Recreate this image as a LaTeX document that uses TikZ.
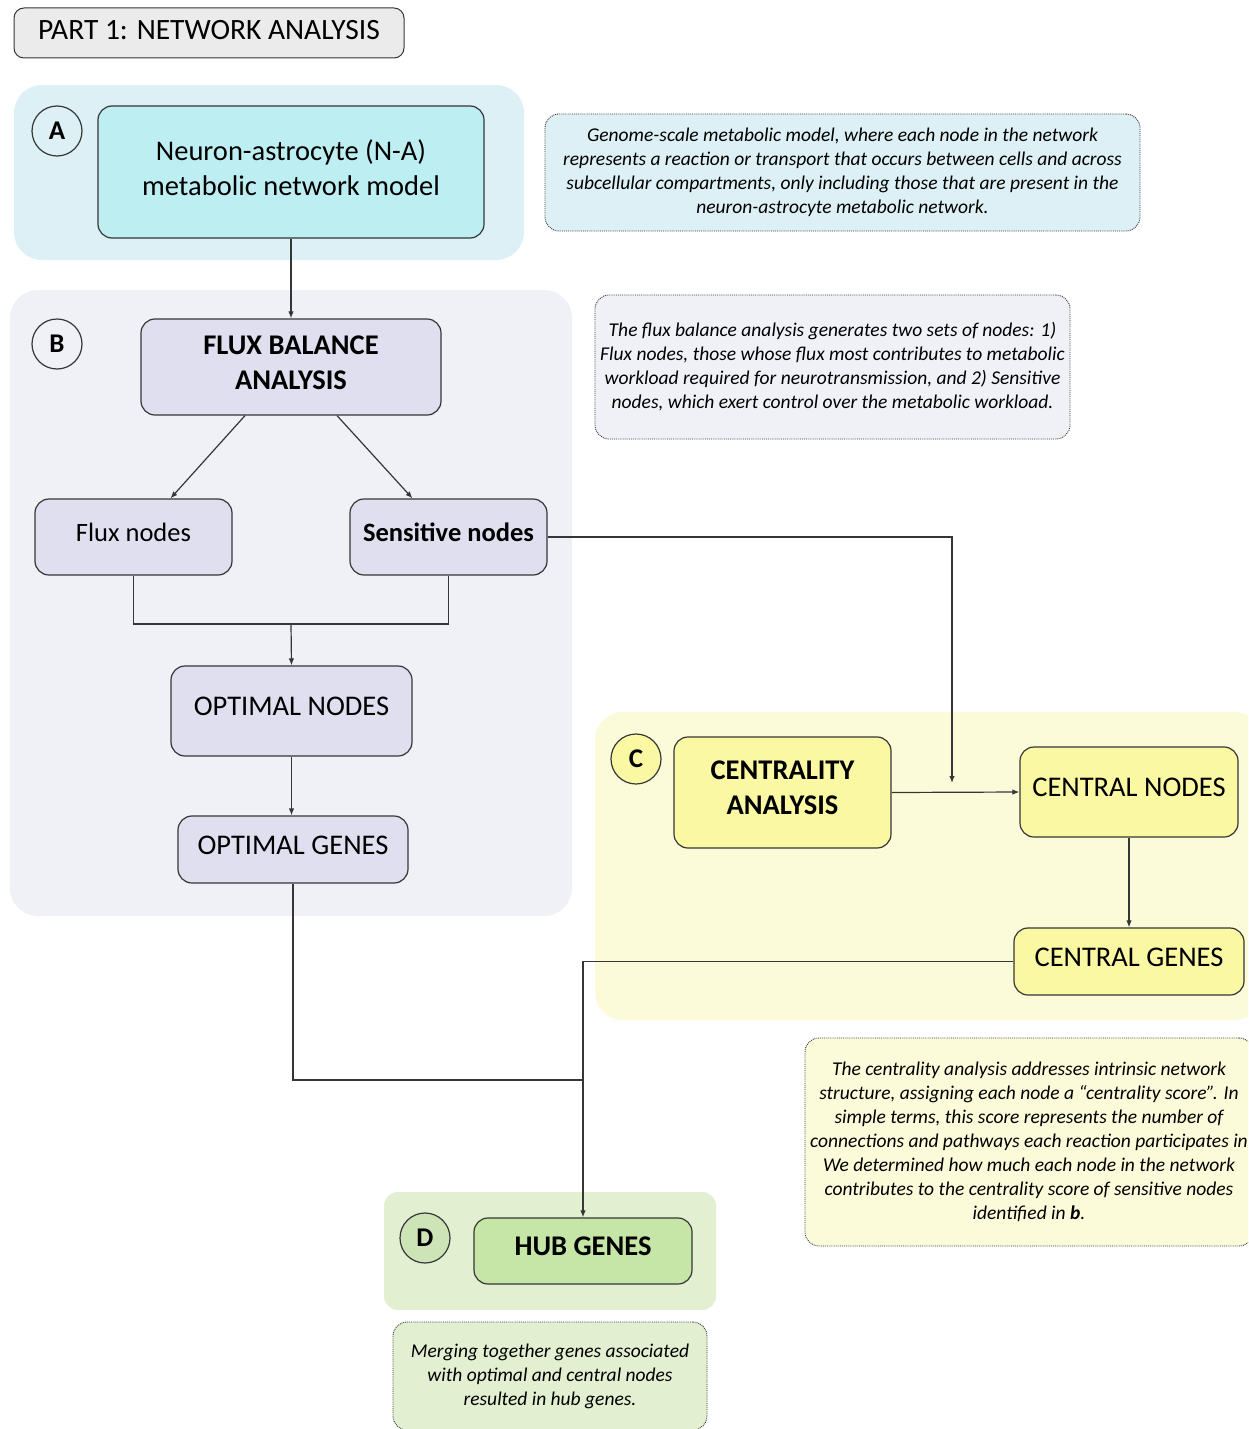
\documentclass[tikz,border=0pt]{standalone}
\usepackage{fontspec}
\setmainfont{Carlito}
\usetikzlibrary{arrows.meta,calc,positioning}

\definecolor{lnGray}{HTML}{363636}
\definecolor{ttlFill}{HTML}{EBEBEB}
\definecolor{aBack}{HTML}{DDF0F5}
\definecolor{aFill}{HTML}{BDEFF2}
\definecolor{bBack}{HTML}{F0F1F7}
\definecolor{bFill}{HTML}{DFDFEF}
\definecolor{cBack}{HTML}{FBFBD9}
\definecolor{cFill}{HTML}{FAF8A2}
\definecolor{dBack}{HTML}{E2EFD1}
\definecolor{dFill}{HTML}{C5E6A7}
\definecolor{dTag}{HTML}{CDE5B6}

\newcommand{\bgregion}[6]{
	\fill[#5, rounded corners=#6] (#1,#2) rectangle (#3,#4);
}

\tikzset{
	box/.style={draw=lnGray, line width=1.2pt, rounded corners=14pt, align=center,
		inner sep=0pt, text depth=9pt, font=\fontsize{28.5}{35}\selectfont},
	smallbox/.style={box, font=\fontsize{26.5}{32}\selectfont},
	notebox/.style={draw=lnGray, densely dotted, line width=0.9pt, rounded corners=14pt,
		align=center, inner sep=0pt, font=\fontsize{19.5}{24}\selectfont\itshape},
	tag/.style={circle, draw=lnGray, line width=1.2pt, minimum size=50pt, inner sep=0pt,
		font=\fontsize{27}{30}\selectfont\bfseries},
	link/.style={draw=lnGray, line width=1.2pt},
	flow/.style={link, -{Latex[length=7pt,width=5.5pt]}}
}

\begin{document}
\begin{tikzpicture}[x=1pt, y=-1pt]
\useasboundingbox (0,0) rectangle (1248,1429);
\fill[white] (0,0) rectangle (1248,1429);
\clip (0,0) rectangle (1248,1429);

\pgfmathsetmacro{\colB}{291}
\pgfmathsetmacro{\colD}{583}
\pgfmathsetmacro{\colC}{1129}

\bgregion{14}{85}{524}{260}{aBack}{28pt}
\bgregion{10}{290}{572}{916}{bBack}{28pt}
\bgregion{595}{712}{1262}{1020}{cBack}{28pt}
\bgregion{384}{1192}{716}{1310}{dBack}{14pt}

\node[box, fill=ttlFill, line width=1pt, rounded corners=10pt, minimum width=390pt, minimum height=50pt,
	text depth=6pt, font=\fontsize{29.5}{34}\selectfont] (title) at (209,33) {PART 1: NETWORK ANALYSIS};

\node[tag, fill=aBack] (tagA) at (57,131) {A};
\node[box, fill=aFill, minimum width=386pt, minimum height=132pt] (na) at (\colB,172)
	{Neuron-astrocyte (N-A)\\metabolic network model};
\node[notebox, fill=aBack, minimum width=595pt, minimum height=117pt] (noteA) at (842.5,172.5)
	{Genome-scale metabolic model, where each node in the network\\
	represents a reaction or transport that occurs between cells and across\\
	subcellular compartments, only including those that are present in the\\
	neuron-astrocyte metabolic network.};

\node[tag, fill=bBack] (tagB) at (57,344) {B};
\node[box, fill=bFill, minimum width=300pt, minimum height=96pt, font=\fontsize{28.5}{35}\selectfont\bfseries]
	(fba) at (\colB,367) {FLUX BALANCE\\ANALYSIS};
\node[notebox, fill=bBack, minimum width=475pt, minimum height=144pt] (noteB) at (832.5,367)
	{The flux balance analysis generates two sets of nodes: 1)\\
	Flux nodes, those whose flux most contributes to metabolic\\
	workload required for neurotransmission, and 2) Sensitive\\
	nodes, which exert control over the metabolic workload.};
\node[smallbox, fill=bFill, minimum width=197pt, minimum height=76pt] (flux) at (133.5,537) {Flux nodes};
\node[smallbox, fill=bFill, minimum width=197pt, minimum height=76pt, font=\fontsize{26.5}{32}\selectfont\bfseries]
	(sens) at (448.5,537) {Sensitive nodes};
\node[box, fill=bFill, minimum width=241pt, minimum height=90pt] (optn) at (291.5,711) {OPTIMAL NODES};
\node[box, fill=bFill, minimum width=230pt, minimum height=67pt] (optg) at (293,849.5) {OPTIMAL GENES};

\node[tag, fill=cFill] (tagC) at (636,759) {C};
\node[box, fill=cFill, minimum width=217pt, minimum height=111pt, font=\fontsize{28.5}{35}\selectfont\bfseries]
	(cana) at (782.5,792.5) {CENTRALITY\\ANALYSIS};
\node[box, fill=cFill, minimum width=218pt, minimum height=90pt] (cnodes) at (\colC,792) {CENTRAL NODES};
\node[box, fill=cFill, minimum width=230pt, minimum height=67pt] (cgenes) at (\colC,961.5) {CENTRAL GENES};
\node[notebox, fill=cBack, minimum width=448pt, minimum height=208pt] (noteC) at (1029,1142)
	{The centrality analysis addresses intrinsic network\\
	structure, assigning each node a “centrality score”. In\\
	simple terms, this score represents the number of\\
	connections and pathways each reaction participates in\\
	We determined how much each node in the network\\
	contributes to the centrality score of sensitive nodes\\
	identified in \textbf{b}.};

\node[tag, fill=dTag] (tagD) at (425,1238) {D};
\node[box, fill=dFill, minimum width=218pt, minimum height=66pt, font=\fontsize{28.5}{35}\selectfont\bfseries]
	(hub) at (\colD,1251) {HUB GENES};
\node[notebox, fill=dBack, minimum width=314pt, minimum height=108pt] (noteD) at (550,1376)
	{Merging together genes associated\\
	with optimal and central nodes\\
	resulted in hub genes.};

\coordinate (fbj) at (\colB,624);
\coordinate (sensc) at (952,783);
\coordinate (hubj) at (\colD,1080);

\draw[flow] (na.south) -- (fba.north);
\draw[flow] ($(fba.south)+(-46,0)$) -- ($(flux.north)+(37,0)$);
\draw[flow] ($(fba.south)+(46,0)$) -- ($(sens.north)+(-36,0)$);
\draw[link] (flux.south) |- (fbj) -| (sens.south);
\draw[flow] (fbj) -- (optn.north);
\draw[flow] (optn.south) -- (optn.south |- optg.north);
\draw[flow] (sens.east) -| (sensc);
\draw[flow] (cana.east) -- (cnodes.west);
\draw[flow] (cnodes.south) -- (cgenes.north);
\draw[flow] (cgenes.west) -| (hub.north);
\draw[link] (optg.south) |- (hubj);
\end{tikzpicture}
\end{document}
